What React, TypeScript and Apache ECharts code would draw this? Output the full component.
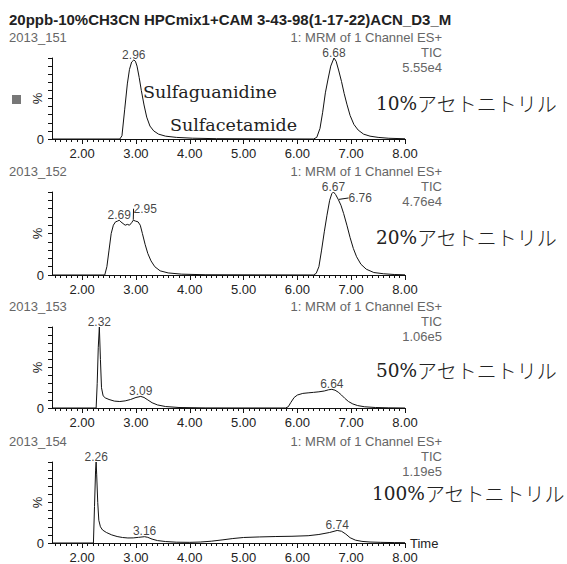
import React, { useEffect, useRef } from "react";
import * as echarts from "echarts";

// ---- texts ----
const TITLE = "20ppb-10%CH3CN HPCmix1+CAM 3-43-98(1-17-22)ACN_D3_M";
const sampleNames = ["2013_151", "2013_152", "2013_153", "2013_154"];
const channelLabel = "1: MRM of 1 Channel ES+";
const ticLabel = "TIC";
const intensities = ["5.55e4", "4.76e4", "1.06e5", "1.19e5"];
const solventPercents = ["10%", "20%", "50%", "100%"];
const solventName = "アセトニトリル";
const compoundLabels = ["Sulfaguanidine", "Sulfacetamide"];
const xAxisName = "Time";
const yAxisName = "%";

// ---- axes ----
const X_MIN = 1.44;
const X_MAX = 8.0;
const xMajorTicks = [2, 3, 4, 5, 6, 7, 8];
const xMinorTicks: number[] = [];
for (let k = 15; k <= 79; k++) if (k % 10 !== 0) xMinorTicks.push(k / 10);

// ---- panel 1 (10%) ----
const times1 = [1.44, 2.70, 2.74, 2.79, 2.84, 2.88, 2.92, 2.96, 2.99, 3.02, 3.06, 3.10, 3.15, 3.20, 3.26, 3.33, 3.42, 3.55, 3.75, 4.05, 4.5,
  6.30, 6.36, 6.42, 6.47, 6.52, 6.57, 6.62, 6.68, 6.72, 6.77, 6.82, 6.87, 6.92, 6.98, 7.05, 7.13, 7.23, 7.35, 7.50, 7.70, 8.00];
const values1 = [0, 0, 4, 36, 68, 86, 95, 97.5, 96, 90, 76, 60, 42, 27, 16, 10, 6, 3.5, 2, 1, 0.4,
  0, 2, 13, 33, 57, 74, 90, 100, 96, 84, 71, 56, 43, 29, 18, 11, 6, 3.5, 2, 0.9, 0.3];
const peakTimes1 = [2.96, 6.68];
const peakValues1 = [97.5, 100];

// ---- panel 2 (20%) ----
const times2 = [1.44, 2.42, 2.46, 2.50, 2.54, 2.58, 2.62, 2.66, 2.69, 2.72, 2.76, 2.80, 2.84, 2.88, 2.92, 2.95, 2.99, 3.04, 3.08, 3.12, 3.17, 3.22, 3.28, 3.35, 3.45, 3.60, 3.85, 4.3,
  6.30, 6.35, 6.40, 6.45, 6.50, 6.55, 6.60, 6.64, 6.67, 6.71, 6.76, 6.81, 6.86, 6.92, 6.98, 7.04, 7.10, 7.18, 7.28, 7.42, 7.60, 7.80, 8.0];
const values2 = [0, 0, 10, 30, 50, 60, 64, 65, 66, 64, 62, 60, 61, 60, 63, 66, 65, 64, 60, 50, 37, 26, 17, 10, 5, 2.5, 1, 0.3,
  0, 2, 10, 30, 52, 72, 90, 98, 100, 97, 91, 84, 74, 60, 45, 32, 22, 13, 7, 3, 1.5, 0.6, 0.2];
const peakTimes2 = [2.69, 2.95, 6.67, 6.76];
const peakValues2 = [66, 66, 100, 91];

// ---- panel 3 (50%) ----
const times3 = [1.44, 2.26, 2.28, 2.30, 2.32, 2.34, 2.36, 2.39, 2.43, 2.50, 2.60, 2.70, 2.80, 2.90, 3.00, 3.09, 3.15, 3.22, 3.30, 3.40, 3.55, 3.80, 4.3,
  5.78, 5.83, 5.88, 5.94, 6.00, 6.10, 6.20, 6.30, 6.40, 6.50, 6.58, 6.64, 6.70, 6.76, 6.82, 6.88, 6.95, 7.03, 7.12, 7.25, 7.45, 7.70, 8.0];
const values3 = [0, 0, 30, 75, 100, 60, 25, 15, 12.5, 10.5, 8.5, 8, 8.8, 10.5, 13, 14.3, 13, 10, 6.5, 3.8, 1.8, 0.6, 0.1,
  0, 1.5, 7, 13, 16, 18, 18.7, 19.3, 20, 21, 22.5, 23, 22, 19.5, 16, 12, 8, 5, 3, 1.5, 0.6, 0.2, 0];
const peakTimes3 = [2.32, 3.09, 6.64];
const peakValues3 = [100, 14.3, 23];

// ---- panel 4 (100%) ----
const times4 = [1.44, 2.21, 2.23, 2.25, 2.26, 2.27, 2.29, 2.31, 2.34, 2.38, 2.45, 2.55, 2.65, 2.75, 2.85, 2.95, 3.05, 3.16, 3.22, 3.30, 3.40, 3.55, 3.75, 4.00, 4.20, 4.40, 4.60, 4.80, 5.00, 5.30, 5.60, 5.90, 6.20, 6.40, 6.60, 6.74, 6.82, 6.90, 6.98, 7.08, 7.20, 7.35, 7.55, 7.80, 8.0];
const values4 = [0, 0, 45, 90, 100, 85, 50, 28, 20, 16, 13, 10, 8, 6.8, 6.2, 6.3, 7, 7.8, 7, 4.8, 3, 1.8, 1, 0.8, 1.2, 2.2, 3.8, 5.5, 6.8, 7.5, 8, 8.3, 9, 10.5, 13, 15.5, 14.5, 11, 6.5, 3.5, 2, 1.2, 0.8, 0.5, 0.4];
const peakTimes4 = [2.26, 3.16, 6.74];
const peakValues4 = [100, 7.8, 15.5];

const panelTimes = [times1, times2, times3, times4];
const panelValues = [values1, values2, values3, values4];
const panelPeakTimes = [peakTimes1, peakTimes2, peakTimes3, peakTimes4];
const panelPeakValues = [peakValues1, peakValues2, peakValues3, peakValues4];

// ---- layout ----
const W = 567;
const H = 564;
const GRID_LEFT = 52;
const GRID_RIGHT = 162;
const gridTops = [58, 192, 327, 462];
const gridHeights = [81, 83, 81, 81];
const RIGHT_TEXT_X = 442;
const SANS = '"Liberation Sans", Arial, sans-serif';
const SERIF = '"DejaVu Serif", "Liberation Serif", serif';
const CJK = '"Noto Sans CJK JP", sans-serif';
const INK = "#111";

// label offsets for peaks with leader lines (panel index - peak index -> [dx, dy])
const leaderOffsets: Record<string, [number, number]> = {
  "1-1": [12, -6],
  "1-3": [22, 4],
};

export default function App() {
  const ref = useRef<HTMLDivElement>(null);

  useEffect(() => {
    if (!ref.current) return;
    const chart = echarts.init(ref.current, undefined, { renderer: "svg" });

    const grid = gridTops.map((top, i) => ({
      left: GRID_LEFT,
      right: GRID_RIGHT,
      top,
      height: gridHeights[i],
      containLabel: false,
    }));

    const xAxis: any[] = [];
    const yAxis: any[] = [];
    const series: any[] = [];

    gridTops.forEach((_, i) => {
      xAxis.push({
        type: "value",
        gridIndex: i,
        position: "bottom",
        min: X_MIN,
        max: X_MAX,
        axisLine: { show: true, onZero: false, lineStyle: { color: INK, width: 1 } },
        axisTick: { show: true, customValues: xMajorTicks, length: 5, lineStyle: { color: INK, width: 1 } },
        axisLabel: {
          show: true,
          customValues: xMajorTicks,
          formatter: (v: number) => v.toFixed(2),
          margin: 8,
          fontSize: 13,
          color: "#222",
          fontFamily: SANS,
        },
        splitLine: { show: false },
        name: i === 3 ? xAxisName : "",
        nameLocation: "end",
        nameGap: 5,
        nameTextStyle: { fontSize: 13, color: "#222", fontFamily: SANS },
      });
      xAxis.push({
        type: "value",
        gridIndex: i,
        position: "bottom",
        min: X_MIN,
        max: X_MAX,
        axisLine: { show: false },
        axisTick: { show: true, customValues: xMinorTicks, length: 3, lineStyle: { color: INK, width: 1 } },
        axisLabel: { show: false },
        splitLine: { show: false },
      });
      yAxis.push({
        type: "value",
        gridIndex: i,
        min: 0,
        max: 100,
        interval: 10,
        axisLine: { show: true, lineStyle: { color: INK, width: 1 } },
        axisTick: { show: true, length: 4, lineStyle: { color: INK, width: 1 } },
        axisLabel: {
          showMinLabel: true,
          showMaxLabel: true,
          formatter: (v: number) => (v === 0 ? "0" : ""),
          margin: 8,
          fontSize: 13,
          color: "#222",
          fontFamily: SANS,
        },
        splitLine: { show: false },
        name: yAxisName,
        nameLocation: "middle",
        nameRotate: 90,
        nameGap: 8,
        nameMoveOverlap: false,
        nameTextStyle: { fontSize: 13, color: "#222", fontFamily: SANS },
      });

      const ts = panelTimes[i];
      const vs = panelValues[i];
      series.push({
        type: "line",
        xAxisIndex: 2 * i,
        yAxisIndex: i,
        data: ts.map((t, k) => [t, vs[k]]),
        showSymbol: false,
        symbol: "none",
        lineStyle: { color: INK, width: 1 },
        silent: true,
        z: 3,
      });

      const pts = panelPeakTimes[i];
      const pvs = panelPeakValues[i];
      series.push({
        type: "scatter",
        xAxisIndex: 2 * i,
        yAxisIndex: i,
        symbol: "circle",
        symbolSize: 1,
        itemStyle: { color: "rgba(0,0,0,0)" },
        silent: true,
        z: 4,
        data: pts.map((t, k) => ({
          value: [t, pvs[k]],
          labelLine: { show: !!leaderOffsets[`${i}-${k}`] },
        })),
        label: {
          show: true,
          position: "top",
          distance: -1,
          formatter: (p: any) => p.value[0].toFixed(2),
          fontSize: 12,
          color: INK,
          fontFamily: SANS,
        },
        labelLine: { show: false, lineStyle: { color: INK, width: 1 } },
        labelLayout: (params: any) => {
          const off = leaderOffsets[`${i}-${params.dataIndex}`];
          return off ? { dx: off[0], dy: off[1] } : {};
        },
      });
    });

    const graphic: any[] = [
      {
        type: "text",
        x: 9,
        y: 19,
        style: {
          text: TITLE,
          fill: "#222",
          fontSize: 15,
          fontWeight: "bold",
          fontFamily: SANS,
          align: "left",
          verticalAlign: "middle",
          width: 445,
          overflow: "truncate",
          ellipsis: "",
        },
      },
      { type: "rect", shape: { x: 12, y: 95, width: 9, height: 9 }, style: { fill: "#777" } },
    ];

    gridTops.forEach((top, i) => {
      const common = { fontSize: 13, fontFamily: SANS, fill: "#666", verticalAlign: "middle" };
      graphic.push({ type: "text", x: 9, y: top - 21, style: { ...common, text: sampleNames[i], align: "left" } });
      graphic.push({ type: "text", x: RIGHT_TEXT_X, y: top - 21, style: { ...common, text: channelLabel, align: "right" } });
      graphic.push({ type: "text", x: RIGHT_TEXT_X, y: top - 6, style: { ...common, text: ticLabel, align: "right" } });
      graphic.push({ type: "text", x: RIGHT_TEXT_X, y: top + 9, style: { ...common, text: intensities[i], align: "right" } });
    });

    const solventX = [376, 376, 376, 372];
    const solventY = [103, 237, 370, 493];
    solventPercents.forEach((p, i) => {
      graphic.push({
        type: "text",
        x: solventX[i],
        y: solventY[i],
        z: 10,
        style: {
          text: `{a|${p}}{b|${solventName}}`,
          align: "left",
          verticalAlign: "middle",
          rich: {
            a: { fontFamily: SERIF, fontSize: 18.5, fill: "#222", color: "#222" },
            b: { fontFamily: CJK, fontSize: 20, fontWeight: 300, fill: "#222", color: "#222" },
          },
        },
      });
    });
    const compoundPos = [
      [143, 92],
      [170, 125],
    ];
    compoundLabels.forEach((c, i) => {
      graphic.push({
        type: "text",
        x: compoundPos[i][0],
        y: compoundPos[i][1],
        z: 10,
        style: { text: c, fontSize: 17.5, fontFamily: SERIF, fill: "#222", align: "left", verticalAlign: "middle" },
      });
    });

    chart.setOption({
      animation: false,
      backgroundColor: "#fff",
      grid,
      xAxis,
      yAxis,
      series,
      graphic,
    });

    return () => chart.dispose();
  }, []);

  return <div ref={ref} style={{ position: "absolute", left: 0, top: 0, width: W, height: H }} />;
}
